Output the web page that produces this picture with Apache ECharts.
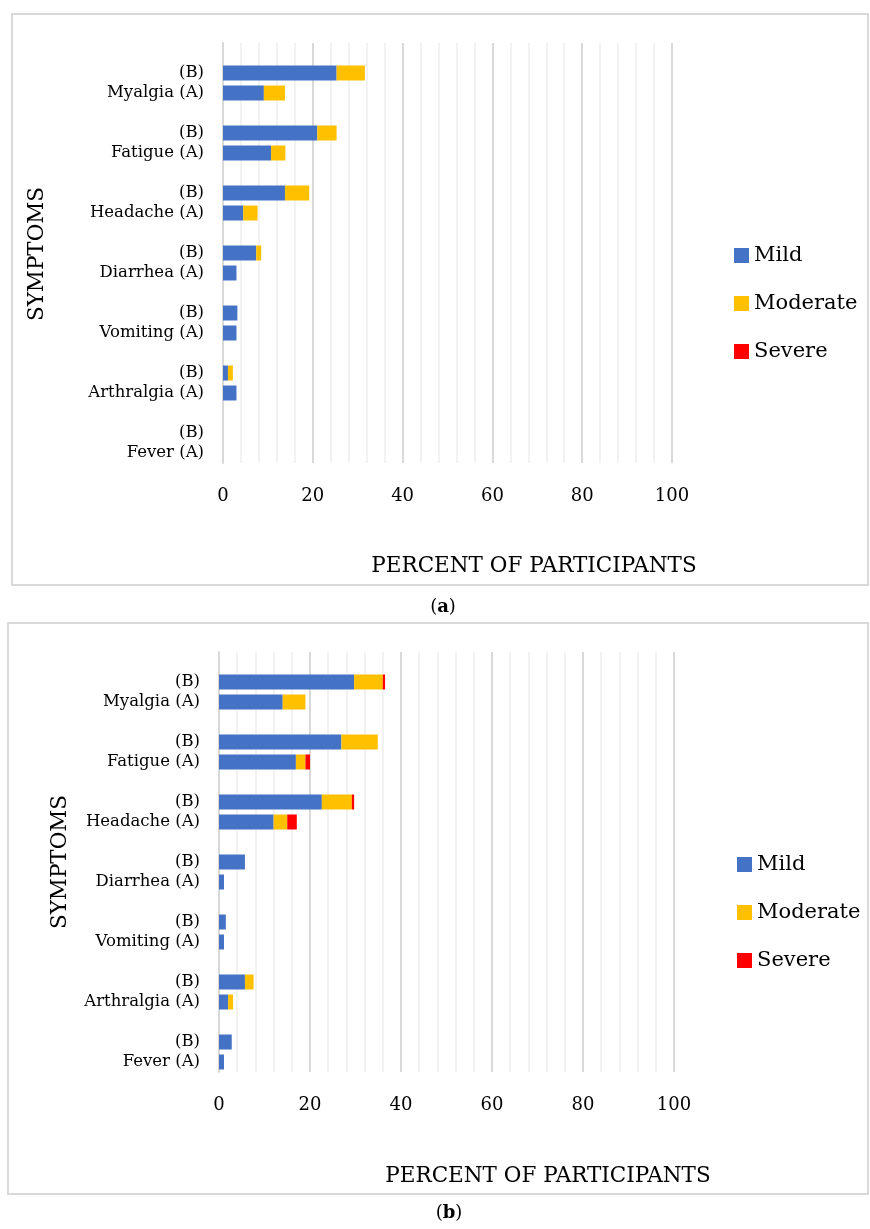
<!DOCTYPE html>
<html>
<head>
<meta charset="utf-8">
<script src="https://cdn.jsdelivr.net/npm/echarts@6/dist/echarts.min.js"></script>
<style>
  html, body { margin: 0; padding: 0; background: #fff; }
  #main { width: 870px; height: 1229px; }
</style>
</head>
<body>
<div id="main"></div>
<script>
// data ===========================================================================================================
var symptoms = ['Myalgia', 'Fatigue', 'Headache', 'Diarrhea', 'Vomiting', 'Arthralgia', 'Fever'];
var severities = ['Mild', 'Moderate', 'Severe'];
var xTicks = [0, 20, 40, 60, 80, 100];

// panel (a)
var mildA_a = [9.1, 10.7, 4.5, 3.0, 3.0, 3.0, 0];
var modA_a  = [4.7, 3.2, 3.2, 0, 0, 0, 0];
var sevA_a  = [0, 0, 0, 0, 0, 0, 0];
var mildB_a = [25.3, 21.0, 13.8, 7.4, 3.2, 1.1, 0];
var modB_a  = [6.3, 4.3, 5.4, 1.1, 0, 1.1, 0];
var sevB_a  = [0, 0, 0, 0, 0, 0, 0];

// panel (b)
var mildA_b = [14.0, 16.9, 12.0, 1.1, 1.1, 2.0, 1.1];
var modA_b  = [5.0, 2.1, 3.0, 0, 0, 1.1, 0];
var sevA_b  = [0, 1.0, 2.1, 0, 0, 0, 0];
var mildB_b = [29.7, 26.9, 22.6, 5.7, 1.5, 5.7, 2.8];
var modB_b  = [6.3, 8.0, 6.6, 0, 0, 1.9, 0];
var sevB_b  = [0.5, 0, 0.5, 0, 0, 0, 0];

var colors = ['#4472c4', '#ffc000', '#ff0000'];
var FONT = 'DejaVu Serif';

// each symptom takes 3 slots: gap, (B), (A)
var slots = [];
symptoms.forEach(function (s, i) { slots.push('gap' + i, 'B' + i, 'A' + i); });

function slotData(arrA, arrB) {
    var out = [];
    for (var i = 0; i < symptoms.length; i++) {
        out.push('-', arrB[i] ? arrB[i] : '-', arrA[i] ? arrA[i] : '-');
    }
    return out;
}

function labelFmt(v) {
    var i = +v.slice(v.length - 1);
    if (v.indexOf('gap') === 0) return '';
    if (v.charAt(0) === 'B') return '(B)';
    return symptoms[i] + ' (A)';
}

function xAx(idx) {
    return {
        type: 'value', gridIndex: idx, min: xTicks[0], max: xTicks[xTicks.length - 1], interval: 20,
        axisLine: {show: false}, axisTick: {show: false},
        axisLabel: {fontFamily: FONT, fontSize: 18, color: '#000', margin: 24},
        splitLine: {show: true, lineStyle: {color: '#d9d9d9', width: 2}},
        minorTick: {show: false, splitNumber: 5},
        minorSplitLine: {show: true, lineStyle: {color: '#f2f2f2', width: 2}}
    };
}

function yAx(idx) {
    return {
        type: 'category', gridIndex: idx, inverse: true, data: slots,
        axisLine: {show: true, lineStyle: {color: '#d9d9d9', width: 2}},
        axisTick: {show: false},
        axisLabel: {fontFamily: FONT, fontSize: 16.5, color: '#000', margin: 19, formatter: labelFmt, interval: 0},
        splitLine: {show: false}
    };
}

var panels = [
    [[mildA_a, mildB_a], [modA_a, modB_a], [sevA_a, sevB_a]],
    [[mildA_b, mildB_b], [modA_b, modB_b], [sevA_b, sevB_b]]
];

var series = [];
panels.forEach(function (p, g) {
    p.forEach(function (pair, k) {
        series.push({
            name: severities[k], type: 'bar', stack: 'st' + g,
            xAxisIndex: g, yAxisIndex: g, barWidth: 15,
            itemStyle: {color: colors[k]},
            data: slotData(pair[0], pair[1])
        });
    });
});

function legendAt(left, top) {
    return {
        data: severities, orient: 'vertical', left: left, top: top,
        icon: 'rect', itemWidth: 15, itemHeight: 15, itemGap: 27,
        textStyle: {fontFamily: FONT, fontSize: 21, color: '#000'}
    };
}

function txt(x, y, text, size, rot) {
    return {
        type: 'text', x: x, y: y, rotation: rot || 0,
        style: {text: text, fontFamily: FONT, fontSize: size, fill: '#000', align: 'center', verticalAlign: 'middle'}
    };
}

var chart = echarts.init(document.getElementById('main'));
chart.setOption({
    animation: false,
    backgroundColor: '#fff',
    grid: [
        {left: 223, right: 198, top: 43, height: 420},
        {left: 219, right: 196, top: 652, height: 420}
    ],
    xAxis: [xAx(0), xAx(1)],
    yAxis: [yAx(0), yAx(1)],
    legend: [legendAt(729, 240), legendAt(732, 849)],
    series: series,
    graphic: [
        {type: 'rect', shape: {x: 12, y: 14, width: 856, height: 571}, style: {fill: 'none', stroke: '#d9d9d9', lineWidth: 2}},
        {type: 'rect', shape: {x: 8, y: 623, width: 860, height: 571}, style: {fill: 'none', stroke: '#d9d9d9', lineWidth: 2}},
        txt(534, 566, 'PERCENT OF PARTICIPANTS', 21.5),
        txt(548, 1176, 'PERCENT OF PARTICIPANTS', 21.5),
        txt(37, 254, 'SYMPTOMS', 21.5, Math.PI / 2),
        txt(60, 862, 'SYMPTOMS', 21.5, Math.PI / 2),
        {type: 'text', x: 443, y: 607, style: {text: '({b|a})', fontFamily: FONT, fontSize: 18, fill: '#000', align: 'center', verticalAlign: 'middle',
            rich: {b: {fontFamily: FONT, fontSize: 18, fontWeight: 'bold'}}}},
        {type: 'text', x: 449, y: 1213, style: {text: '({b|b})', fontFamily: FONT, fontSize: 18, fill: '#000', align: 'center', verticalAlign: 'middle',
            rich: {b: {fontFamily: FONT, fontSize: 18, fontWeight: 'bold'}}}}
    ]
});
</script>
</body>
</html>
